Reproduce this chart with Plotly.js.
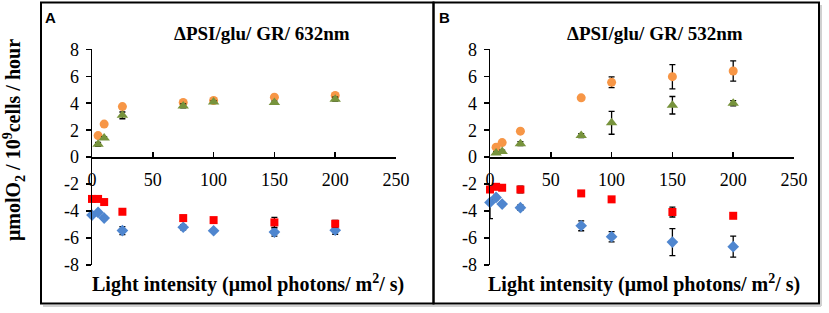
<!DOCTYPE html>
<html>
<head>
<meta charset="utf-8">
<script src="https://cdn.plot.ly/plotly-3.0.1.min.js"></script>
<style>html,body{margin:0;padding:0;background:#fff;}#chart{width:829px;height:313px;}</style>
</head>
<body>
<div id="chart"></div>
<script>
// ---- data ----
const xPos = [5, 10, 25, 75, 100, 150, 200];
const xNeg = [0, 5, 10, 25, 75, 100, 150, 200];

const orangeA = [1.6, 2.45, 3.75, 4.05, 4.2, 4.45, 4.57];
const orangeAErr = [0.1, 0.1, 0.15, 0.15, 0.15, 0.1, 0.15];
const greenA = [0.95, 1.42, 3.1, 3.8, 4.1, 4.05, 4.3];
const greenAErr = [0.15, 0.1, 0.25, 0.15, 0.1, 0.1, 0.15];
const redA = [-3.1, -3.1, -3.33, -4.05, -4.52, -4.67, -4.84, -4.94];
const redAErr = [0.1, 0.1, 0.1, 0.15, 0.2, 0.1, 0.37, 0.25];
const blueA = [-4.3, -4.1, -4.52, -5.45, -5.2, -5.46, -5.56, -5.42];
const blueAErr = [0.1, 0.1, 0.15, 0.3, 0.2, 0.1, 0.3, 0.3];

const orangeB = [0.74, 1.08, 1.93, 4.4, 5.55, 5.97, 6.39];
const orangeBErr = [0.1, 0.1, 0.15, 0.15, 0.4, 0.9, 0.75];
const greenB = [0.3, 0.41, 1.0, 1.6, 2.55, 3.85, 4.0];
const greenBErr = [0.1, 0.1, 0.15, 0.15, 0.85, 0.65, 0.2];
const redB = [-2.4, -2.2, -2.27, -2.4, -2.69, -3.13, -4.07, -4.35];
const redBErr = [0.1, 0.1, 0.1, 0.25, 0.15, 0.2, 0.37, 0.15];
const blueB = [-3.36, -2.99, -3.48, -3.75, -5.09, -5.9, -6.3, -6.64];
const blueBErr = [0.2, 0.15, 0.15, 0.2, 0.37, 0.38, 1.0, 0.78];
const blueBErrMinus = [1.2, 0.15, 0.15, 0.2, 0.37, 0.38, 1.0, 0.78];

const yTickVals = [-8, -6, -4, -2, 0, 2, 4, 6, 8];
const yTickText = ['-8', '-6', '-4', '-2', '0', '2', '4', '6', '8'];
const xTickVals = [0, 50, 100, 150, 200, 250];
const xTickText = ['0', '50', '100', '150', '200', '250'];

const titleA = 'ΔPSI/glu/ GR/ 632nm';
const titleB = 'ΔPSI/glu/ GR/ 532nm';
const xTitle = '<b>Light intensity (μmol photons/ m<sup>2</sup>/ s)</b>';
const yTitle = '<b>μmolO<sub>2</sub> / 10<sup>9</sup>cells / hour</b>';

// ---- helpers ----
const W = 829, H = 313;
const px = x => x / W;
const py = y => 1 - y / H;
const SERIF = '"Liberation Serif", "Times New Roman", Tinos, "DejaVu Serif", serif';
const SANS = '"Liberation Sans", Arial, sans-serif';

const colors = {orange: '#F79646', green: '#77933C', red: '#FF0000', blue: '#4F86CF'};

function trace(x, y, err, errMinus, color, symbol, size, xa, ya) {
  const e = {type: 'data', array: err, visible: true, color: '#000', thickness: 1.3, width: 3};
  if (errMinus) { e.symmetric = false; e.arrayminus = errMinus; }
  return {
    x: x, y: y, xaxis: xa, yaxis: ya, type: 'scatter', mode: 'markers',
    marker: {color: color, symbol: symbol, size: size, line: {width: 0}},
    error_y: e, showlegend: false, hoverinfo: 'skip', cliponaxis: false
  };
}

const data = [
  trace(xPos, orangeA, orangeAErr, null, colors.orange, 'circle', 9, 'x', 'y'),
  trace(xPos, greenA, greenAErr, null, colors.green, 'triangle-up', 10, 'x', 'y'),
  trace(xNeg, blueA, blueAErr, null, colors.blue, 'diamond', 9, 'x', 'y'),
  trace(xNeg, redA, redAErr, null, colors.red, 'square', 8, 'x', 'y'),
  trace(xPos, orangeB, orangeBErr, null, colors.orange, 'circle', 9, 'x2', 'y2'),
  trace(xPos, greenB, greenBErr, null, colors.green, 'triangle-up', 10, 'x2', 'y2'),
  trace(xNeg, blueB, blueBErr, blueBErrMinus, colors.blue, 'diamond', 9, 'x2', 'y2'),
  trace(xNeg, redB, redBErr, null, colors.red, 'square', 8, 'x2', 'y2')
];

const yDom = [py(265), py(49.3)];
const zeroPos = (yDom[0] + yDom[1]) / 2;

function xaxis(d) {
  return {
    domain: d, range: [0, 250], anchor: 'free', position: zeroPos,
    tickmode: 'array', tickvals: xTickVals, ticktext: xTickText,
    ticks: 'inside', ticklen: 5, tickwidth: 1.5, tickcolor: '#000',
    showline: true, linecolor: '#000', linewidth: 1.5,
    showgrid: false, zeroline: false, ticklabelstandoff: 6,
    tickfont: {family: SERIF, size: 18, color: '#000'}, fixedrange: true
  };
}
function yaxis(xa) {
  return {
    domain: yDom, range: [-8, 8], anchor: xa,
    tickmode: 'array', tickvals: yTickVals, ticktext: yTickText,
    ticks: 'outside', ticklen: 5, tickwidth: 1.5, tickcolor: '#000',
    showline: true, linecolor: '#000', linewidth: 1.5,
    showgrid: false, zeroline: false, ticklabelstandoff: 3,
    tickfont: {family: SERIF, size: 18, color: '#000'}, fixedrange: true
  };
}

const layout = {
  width: W, height: H,
  margin: {l: 0, r: 0, t: 0, b: 0},
  paper_bgcolor: '#fff', plot_bgcolor: 'rgba(0,0,0,0)',
  font: {family: SERIF, color: '#000'},
  showlegend: false,
  xaxis: xaxis([px(92), px(396)]),
  yaxis: yaxis('x'),
  xaxis2: xaxis([px(490), px(794)]),
  yaxis2: yaxis('x2'),
  shapes: [
    {type: 'line', xref: 'paper', yref: 'paper', x0: px(43), x1: px(821), y0: py(306), y1: py(306), line: {color: '#d0d0d0', width: 2}},
    {type: 'line', xref: 'paper', yref: 'paper', x0: px(821), x1: px(821), y0: py(5), y1: py(306), line: {color: '#d0d0d0', width: 2}},
    {type: 'rect', xref: 'paper', yref: 'paper', x0: px(41), x1: px(433.5), y0: py(303.5), y1: py(2.5), line: {color: '#000', width: 2}},
    {type: 'rect', xref: 'paper', yref: 'paper', x0: px(433.5), x1: px(819), y0: py(303.5), y1: py(2.5), line: {color: '#000', width: 2}}
  ],
  annotations: [
    {xref: 'paper', yref: 'paper', x: px(50), y: py(17), text: '<b>A</b>', showarrow: false, xanchor: 'center', yanchor: 'middle', font: {family: SANS, size: 15, color: '#000'}},
    {xref: 'paper', yref: 'paper', x: px(444), y: py(17), text: '<b>B</b>', showarrow: false, xanchor: 'center', yanchor: 'middle', font: {family: SANS, size: 15, color: '#000'}},
    {xref: 'paper', yref: 'paper', x: px(262), y: py(33), text: '<b>' + titleA + '</b>', showarrow: false, xanchor: 'center', yanchor: 'middle', font: {family: SERIF, size: 19, color: '#000'}},
    {xref: 'paper', yref: 'paper', x: px(655), y: py(33), text: '<b>' + titleB + '</b>', showarrow: false, xanchor: 'center', yanchor: 'middle', font: {family: SERIF, size: 19, color: '#000'}},
    {xref: 'paper', yref: 'paper', x: px(248), y: py(283), text: xTitle, showarrow: false, xanchor: 'center', yanchor: 'middle', font: {family: SERIF, size: 20, color: '#000'}},
    {xref: 'paper', yref: 'paper', x: px(644), y: py(283), text: xTitle, showarrow: false, xanchor: 'center', yanchor: 'middle', font: {family: SERIF, size: 20, color: '#000'}},
    {xref: 'paper', yref: 'paper', x: px(14), y: py(140), text: yTitle, textangle: -90, showarrow: false, xanchor: 'center', yanchor: 'middle', font: {family: SERIF, size: 20, color: '#000'}}
  ]
};

Plotly.newPlot('chart', data, layout, {displayModeBar: false, staticPlot: true});
</script>
</body>
</html>
